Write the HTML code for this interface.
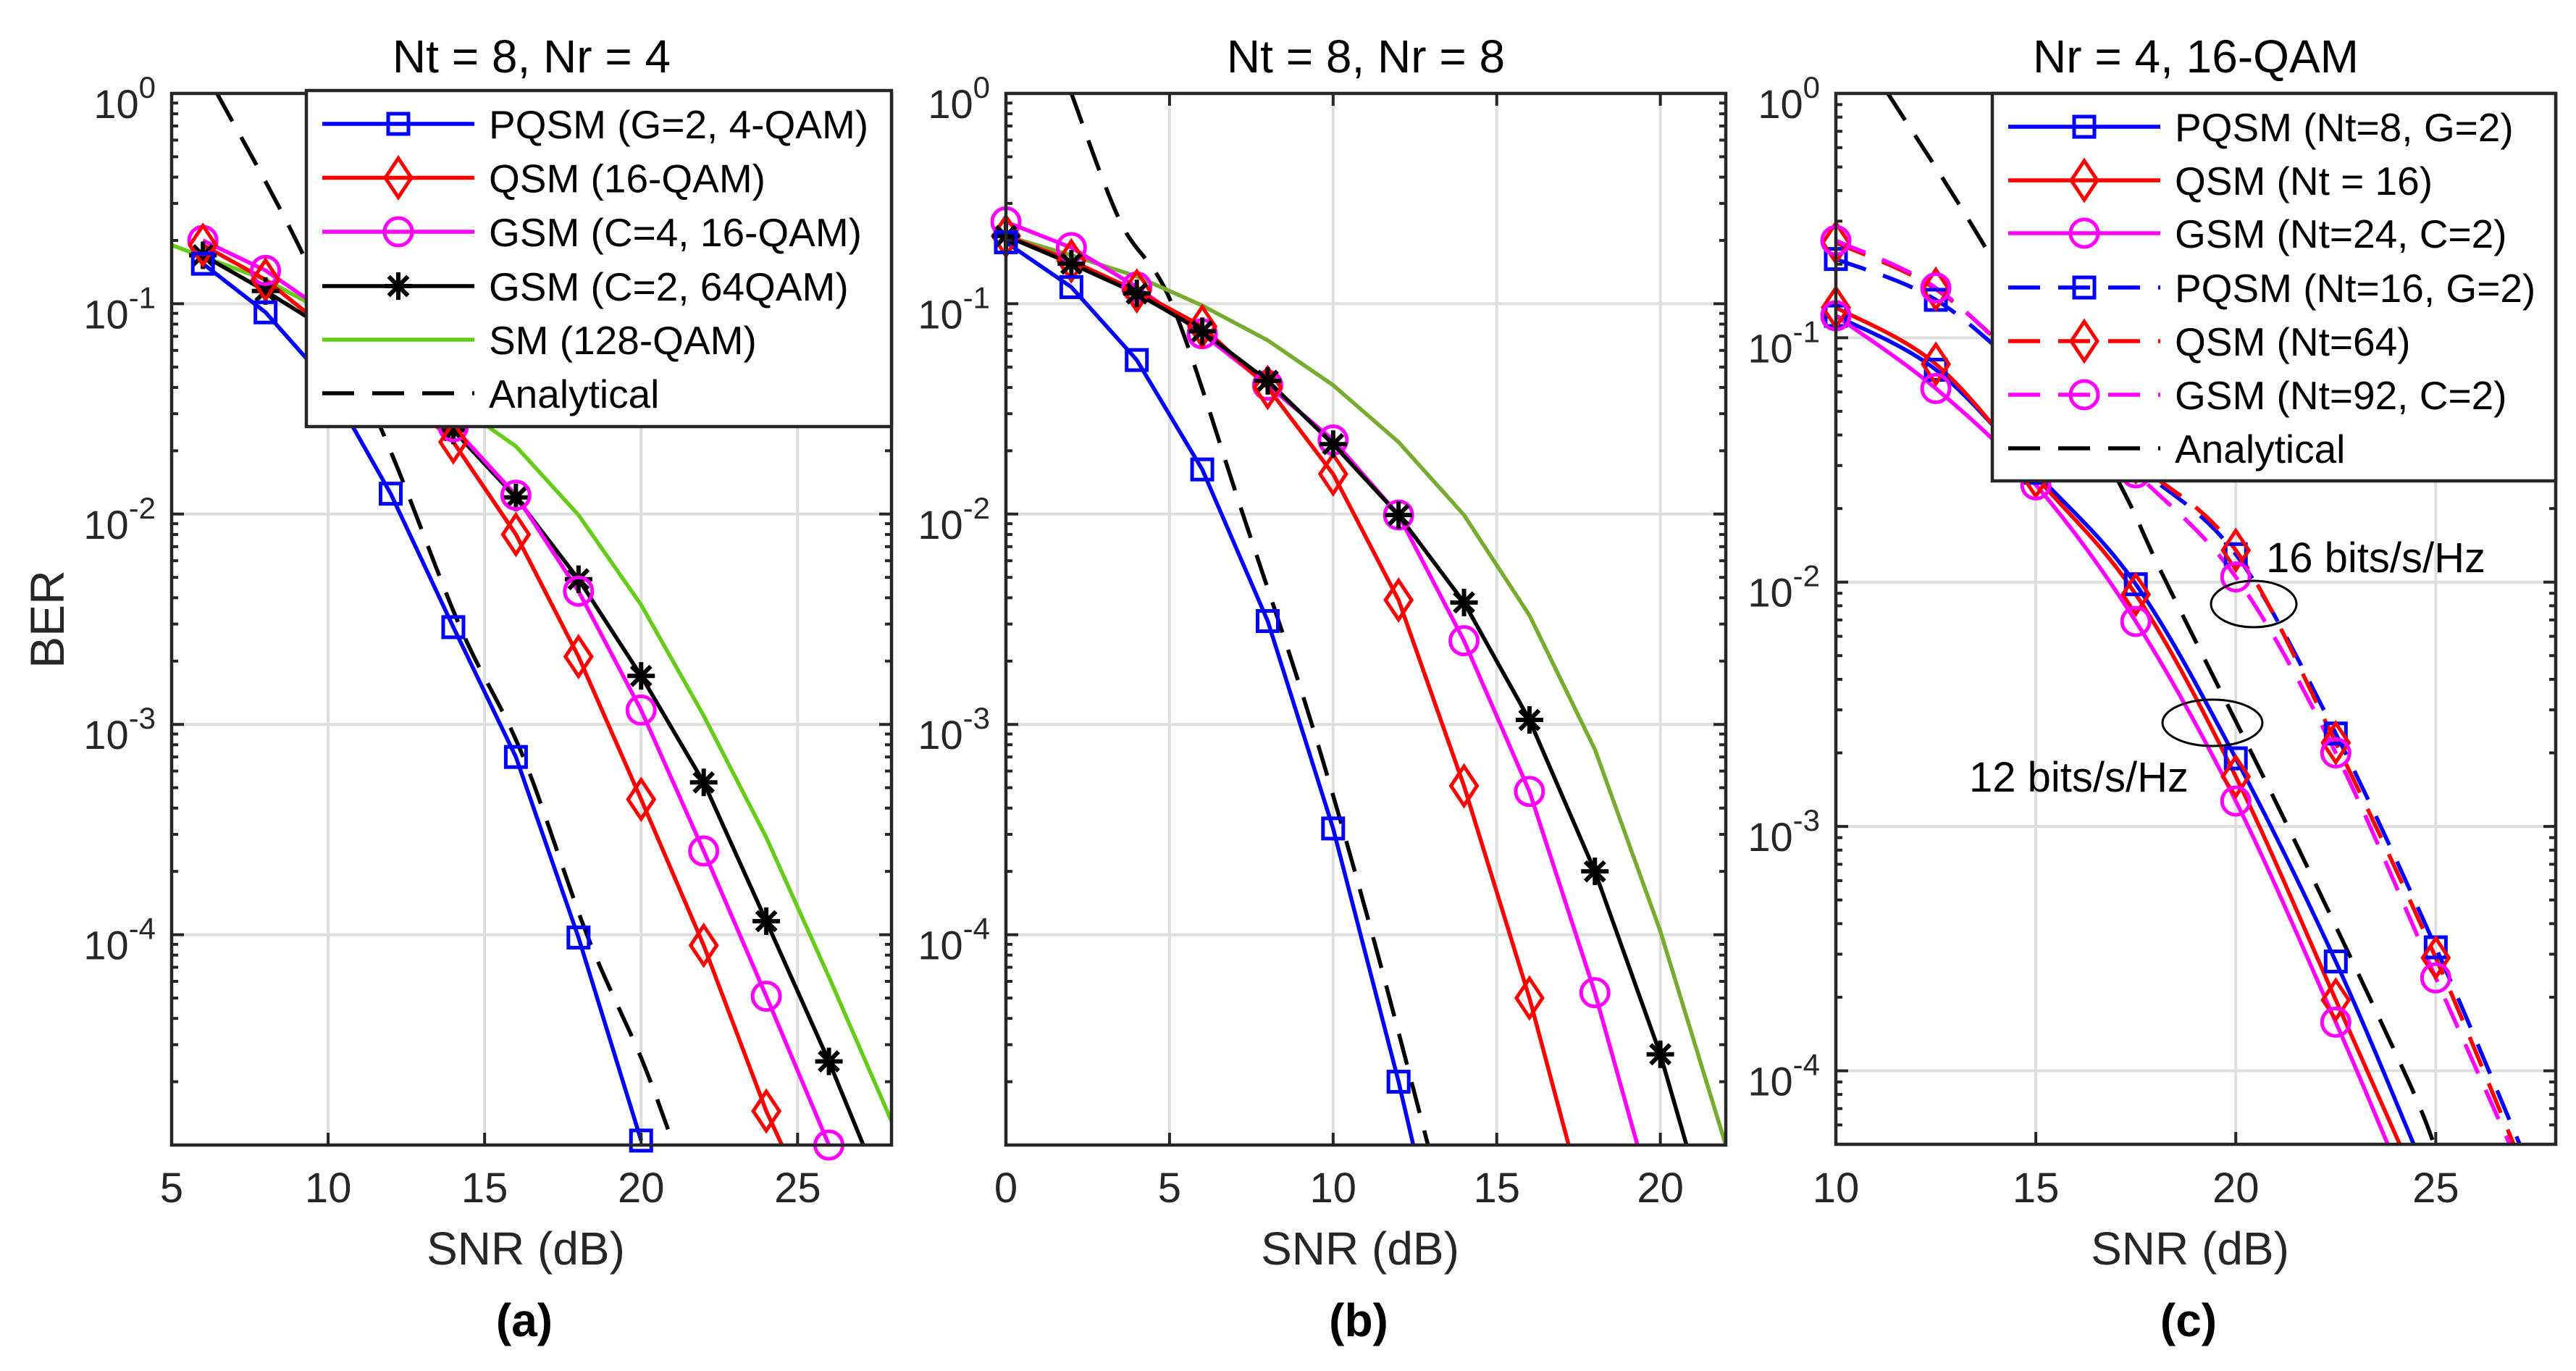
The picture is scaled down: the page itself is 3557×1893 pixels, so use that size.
<!DOCTYPE html>
<html><head><meta charset="utf-8">
<style>
html,body{margin:0;padding:0;background:#fff;}
svg{display:block;font-family:"Liberation Sans",Arial,sans-serif;}
</style></head>
<body>
<svg id="fig" width="3557" height="1893" viewBox="0 0 3557 1893" xmlns="http://www.w3.org/2000/svg">
<rect x="0" y="0" width="3557" height="1893" fill="#fff"/>
</svg>
<script>
// ---------- Panel (a): Nt=8, Nr=4 ----------
const aPqsmX=[6,8,10,12,14,16,18,20];
const aPqsmY=[0.155,0.091,0.042,0.0125,0.0029,0.0007,0.000097,0.0000105];
const aQsmX=[6,8,10,12,14,16,18,20,22,24,24.5];
const aQsmY=[0.19,0.13,0.075,0.042,0.022,0.008,0.0021,0.00044,0.000089,0.0000145,0.00001];
const aGsm4X=[6,8,10,12,14,16,18,20,22,24,26];
const aGsm4Y=[0.2,0.144,0.09,0.05,0.026,0.0123,0.0043,0.00117,0.00025,0.000051,0.00001];
const aGsm2X=[6,8,10,12,14,16,18,20,22,24,26,27.1];
const aGsm2Y=[0.17,0.115,0.075,0.045,0.025,0.012,0.0049,0.0017,0.00053,0.000116,0.000025,0.00001];
const aSmX=[5,8,10,12,14,16,18,20,22,24,26,28];
const aSmY=[0.19,0.13,0.09,0.058,0.034,0.021,0.0099,0.0037,0.0011,0.00029,0.000063,0.000013];
const aAnX=[6.45,9.13,11.93,14.22,16.2,18.27,20,21.04];
const aAnY=[1,0.18,0.021,0.0029,0.00072,0.0001,0.000026,0.00001];
const aMarkX=[6,8,10,12,14,16,18,20,22,24,26];
// ---------- Panel (b): Nt=8, Nr=8 ----------
const bPqsmX=[0,2,4,6,8,10,12,12.45];
const bPqsmY=[0.196,0.12,0.054,0.0163,0.0031,0.00032,0.00002,0.00001];
const bQsmX=[0,2,4,6,8,10,12,14,16,17.2];
const bQsmY=[0.21,0.16,0.115,0.078,0.04,0.0155,0.0039,0.00051,0.00005,0.00001];
const bGsm4X=[0,2,4,6,8,10,12,14,16,18,19.3];
const bGsm4Y=[0.245,0.185,0.12,0.072,0.041,0.0225,0.0099,0.0025,0.00048,0.000053,0.00001];
const bGsm2X=[0,2,4,6,8,10,12,14,16,18,20,20.8];
const bGsm2Y=[0.21,0.155,0.112,0.074,0.043,0.0215,0.0099,0.0038,0.00105,0.0002,0.000027,0.00001];
const bSmX=[0,2,4,6,8,10,12,14,16,18,20,22];
const bSmY=[0.21,0.17,0.135,0.098,0.067,0.041,0.022,0.0099,0.0033,0.00076,0.000104,0.00001];
const bAnX=[2,3.5,5.07,7.24,9.35,11.2,12.9];
const bAnY=[1,0.245,0.1,0.01,0.001,0.0001,0.00001];
// ---------- Panel (c): Nr=4, 16-QAM ----------
const cSolidPqsmX=[10,12.5,15,17.5,20,22.5,24.45];
const cSolidPqsmY=[0.123,0.074,0.028,0.0098,0.0019,0.00028,0.00005];
const cSolidQsmX=[10,12.5,15,17.5,20,22.5,24.1];
const cSolidQsmY=[0.133,0.078,0.027,0.0089,0.0016,0.000195,0.00005];
const cSolidGsmX=[10,12.5,15,17.5,20,22.5,23.8];
const cSolidGsmY=[0.123,0.062,0.025,0.0069,0.00127,0.000158,0.00005];
const cDashPqsmX=[10,12.5,15,17.5,20,22.5,25,27.1];
const cDashPqsmY=[0.21,0.143,0.066,0.03,0.013,0.0024,0.00032,0.00005];
const cDashQsmX=[10,12.5,15,17.5,20,22.5,25,26.95];
const cDashQsmY=[0.245,0.158,0.07,0.031,0.0135,0.0022,0.00029,0.00005];
const cDashGsmX=[10,12.5,15,17.5,20,22.5,25,26.85];
const cDashGsmY=[0.25,0.16,0.068,0.028,0.0105,0.002,0.00024,0.00005];
const cAnX=[11.3,13.7,16.9,18.26,21.3,24.2,24.96];
const cAnY=[1,0.24,0.029,0.01,0.001,0.0001,0.00005];
const cMarkX=[10,12.5,15,17.5,20,22.5,25];
// ticks
const aXTicks=[5,10,15,20,25];
const bXTicks=[0,5,10,15,20];
const cXTicks=[10,15,20,25];
const abYExp=[0,-1,-2,-3,-4];
const cYExp=[0,-1,-2,-3,-4];

const NS="http://www.w3.org/2000/svg";
const svg=document.getElementById('fig');
function el(tag,attrs,parent){const e=document.createElementNS(NS,tag);for(const k in attrs)e.setAttribute(k,attrs[k]);(parent||svg).appendChild(e);return e;}

const BLUE="#0000FF",RED="#FF0000",MAG="#FF00FF",BLK="#000000";
const AX="#262626";

function makePanel(p){
  const sx=v=>p.x0+(v-p.xmin)/(p.xmax-p.xmin)*(p.x1-p.x0);
  const sy=v=>p.y0+(p.lmax-Math.log10(v))/(p.lmax-p.lmin)*(p.y1-p.y0);
  const g=el('g',{});
  
  
  const clipId='clip-'+p.name;
  const cp=el('clipPath',{id:clipId},g);
  el('rect',{x:p.x0,y:p.y0,width:p.x1-p.x0,height:p.y1-p.y0},cp);
  const grid=el('g',{stroke:'#dedede','stroke-width':4},g);
  
  
  p.xticks.forEach(t=>{el('line',{x1:sx(t),x2:sx(t),y1:p.y0,y2:p.y1},grid);});
  for(let e=Math.ceil(p.lmin);e<=p.lmax;e++){el('line',{x1:p.x0,x2:p.x1,y1:sy(Math.pow(10,e)),y2:sy(Math.pow(10,e))},grid);}
  const sg=el('g',{'clip-path':'url(#'+clipId+')'},g);
  p.series.forEach(s=>{
    let pts=s.xs.map((x,i)=>[sx(x),sy(s.ys[i])]);
    let d;
    if(s.smooth){d=catmull(pts);}else{d='M'+pts.map(q=>q[0].toFixed(1)+','+q[1].toFixed(1)).join(' L');}
    const path=el('path',{d:d,fill:'none',stroke:s.color,'stroke-width':5.5,'stroke-linejoin':'round'},sg);
    if(s.dash)path.setAttribute('stroke-dasharray',s.dash);
    
    
  });
  const mg=el('g',{},g);
  p.series.forEach(s=>{
    if(!s.marker)return;
    s.xs.forEach((x,i)=>{
      if(s.markX.indexOf(x)<0)return;
      const m=drawMarker(mg,s.marker,sx(x),sy(s.ys[i]),s.color);
      
      
    });
  });
  const bx=el('rect',{x:p.x0,y:p.y0,width:p.x1-p.x0,height:p.y1-p.y0,fill:'none',stroke:AX,'stroke-width':4.5},g);
  
  
  const tk=el('g',{stroke:AX,'stroke-width':4},g);
  p.xticks.forEach(t=>{const X=sx(t);
    el('line',{x1:X,x2:X,y1:p.y1,y2:p.y1-17},tk);el('line',{x1:X,x2:X,y1:p.y0,y2:p.y0+17},tk);
    const tl=el('text',{x:X,y:1660,'font-size':58,fill:AX,'text-anchor':'middle'},g);tl.textContent=String(t);
    
    
  });
  for(let e=Math.floor(p.lmin);e<p.lmax;e++){
    for(let k=1;k<10;k++){const v=k*Math.pow(10,e);const L=Math.log10(v);if(L<p.lmin-1e-9||L>p.lmax+1e-9)continue;
      const Y=sy(v);const len=(k===1)?17:9;
      el('line',{x1:p.x0,x2:p.x0+len,y1:Y,y2:Y},tk);el('line',{x1:p.x1,x2:p.x1-len,y1:Y,y2:Y},tk);}
  }
  el('line',{x1:p.x0,x2:p.x0+17,y1:p.y0,y2:p.y0},tk);
  p.yexp.forEach(e=>{const Y=sy(Math.pow(10,e));
    const t=el('text',{x:p.x0-22,y:Y+34,'font-size':56,fill:AX,'text-anchor':'end'},g);
    
    
    const a=el('tspan',{},t);a.textContent='10';
    const b=el('tspan',{'font-size':42,dy:-28},t);b.textContent=String(e);
  });
  const tt=el('text',{x:(p.x0+p.x1)/2,y:100,'font-size':64,fill:'#000','text-anchor':'middle'},g);tt.textContent=p.title;
  
  
  const xt=el('text',{x:(p.x0+p.x1)/2-8,y:1746,'font-size':64,fill:AX,'text-anchor':'middle'},g);xt.textContent='SNR (dB)';
  
  
  const lb=el('text',{x:(p.x0+p.x1)/2-10,y:1845,'font-size':64,'font-weight':'bold',fill:'#000','text-anchor':'middle'},g);lb.textContent=p.label;
  
  
  return {sx,sy,g};
}

function catmull(pts){
  let d='M'+pts[0][0]+','+pts[0][1];
  for(let i=0;i<pts.length-1;i++){
    const p0=pts[Math.max(0,i-1)],p1=pts[i],p2=pts[i+1],p3=pts[Math.min(pts.length-1,i+2)];
    const c1=[p1[0]+(p2[0]-p0[0])/6,p1[1]+(p2[1]-p0[1])/6];
    const c2=[p2[0]-(p3[0]-p1[0])/6,p2[1]-(p3[1]-p1[1])/6];
    d+=' C'+c1.join(',')+' '+c2.join(',')+' '+p2.join(',');
  }
  return d;
}

function drawMarker(parent,type,x,y,c){
  const g=el('g',{fill:'none',stroke:c,'stroke-width':5},parent);
  if(type==='square'){el('rect',{x:x-14,y:y-14,width:28,height:28},g);}
  else if(type==='diamond'){el('path',{d:`M${x},${y-27} L${x+18},${y} L${x},${y+27} L${x-18},${y} Z`},g);}
  else if(type==='circle'){el('circle',{cx:x,cy:y,r:19},g);}
  else if(type==='star'){const r=19;el('path',{d:`M${x-r},${y} L${x+r},${y} M${x},${y-r} L${x},${y+r} M${x-r*0.7},${y-r*0.7} L${x+r*0.7},${y+r*0.7} M${x-r*0.7},${y+r*0.7} L${x+r*0.7},${y-r*0.7}`,'stroke-width':6},g);}
  return g;
}

function legend(name,x0,y0,x1,y1,entries,ys){
  const g=el('g',{});
  
  
  el('rect',{x:x0,y:y0,width:x1-x0,height:y1-y0,fill:'#fff',stroke:AX,'stroke-width':4.5},g);
  entries.forEach((e,i)=>{
    const Y=ys[i];
    const eg=el('g',{},g);
    
    
    const ln=el('line',{x1:x0+22,x2:x0+232,y1:Y,y2:Y,stroke:e.color,'stroke-width':5.5},eg);
    if(e.dash)ln.setAttribute('stroke-dasharray',e.dash);
    if(e.marker)drawMarker(eg,e.marker,x0+127,Y,e.color);
    const t=el('text',{x:x0+252,y:Y+20,'font-size':55,fill:'#000'},eg);t.textContent=e.text;
  });
}

const DASH='44 25';
makePanel({name:'panel-a',x0:237,x1:1231,y0:129,y1:1581,xmin:5,xmax:28,lmin:-5,lmax:0,xticks:aXTicks,yexp:abYExp,title:'Nt = 8, Nr = 4',label:'(a)',
 series:[
  {id:'a-analytical',xs:aAnX,ys:aAnY,color:BLK,dash:DASH,smooth:true},
  {id:'a-sm',xs:aSmX,ys:aSmY,color:'#66CC1A'},
  {id:'a-gsm-c2',xs:aGsm2X,ys:aGsm2Y,color:BLK,marker:'star',markX:aMarkX},
  {id:'a-gsm-c4',xs:aGsm4X,ys:aGsm4Y,color:MAG,marker:'circle',markX:aMarkX},
  {id:'a-qsm',xs:aQsmX,ys:aQsmY,color:RED,marker:'diamond',markX:aMarkX},
  {id:'a-pqsm',xs:aPqsmX,ys:aPqsmY,color:BLUE,marker:'square',markX:aMarkX}
 ]});
legend('panel-a-legend',423,125,1231,589,[
 {id:'pqsm',text:'PQSM (G=2, 4-QAM)',color:BLUE,marker:'square'},
 {id:'qsm',text:'QSM (16-QAM)',color:RED,marker:'diamond'},
 {id:'gsm-c4',text:'GSM (C=4, 16-QAM)',color:MAG,marker:'circle'},
 {id:'gsm-c2',text:'GSM (C=2, 64QAM)',color:BLK,marker:'star'},
 {id:'sm',text:'SM (128-QAM)',color:'#66CC1A'},
 {id:'analytical',text:'Analytical',color:BLK,dash:DASH}
],[171,245.5,320,395,469,543]);
const ber=el('text',{x:0,y:0,'font-size':66,fill:AX,'text-anchor':'middle',transform:'translate(88,855) rotate(-90)'});
ber.textContent='BER';



const bMark=[0,2,4,6,8,10,12,14,16,18,20];
makePanel({name:'panel-b',x0:1389,x1:2383,y0:129,y1:1581,xmin:0,xmax:22,lmin:-5,lmax:0,xticks:bXTicks,yexp:abYExp,title:'Nt = 8, Nr = 8',label:'(b)',
 series:[
  {id:'b-analytical',xs:bAnX,ys:bAnY,color:BLK,dash:DASH,smooth:true},
  {id:'b-sm',xs:bSmX,ys:bSmY,color:'#77AC30'},
  {id:'b-gsm-c4',xs:bGsm4X,ys:bGsm4Y,color:MAG,marker:'circle',markX:bMark},
  {id:'b-qsm',xs:bQsmX,ys:bQsmY,color:RED,marker:'diamond',markX:bMark},
  {id:'b-gsm-c2',xs:bGsm2X,ys:bGsm2Y,color:BLK,marker:'star',markX:bMark},
  {id:'b-pqsm',xs:bPqsmX,ys:bPqsmY,color:BLUE,marker:'square',markX:bMark}
 ]});

makePanel({name:'panel-c',x0:2535,x1:3529,y0:129,y1:1580,xmin:10,xmax:28,lmin:Math.log10(5e-5),lmax:0,xticks:cXTicks,yexp:cYExp,title:'Nr = 4, 16-QAM',label:'(c)',
 series:[
  {id:'c-analytical',xs:cAnX,ys:cAnY,color:BLK,dash:DASH,smooth:true},
  {id:'c-pqsm-nt16',xs:cDashPqsmX,ys:cDashPqsmY,color:BLUE,dash:DASH,marker:'square',markX:cMarkX,smooth:true},
  {id:'c-qsm-nt64',xs:cDashQsmX,ys:cDashQsmY,color:RED,dash:DASH,marker:'diamond',markX:cMarkX,smooth:true},
  {id:'c-gsm-nt92',xs:cDashGsmX,ys:cDashGsmY,color:MAG,dash:DASH,marker:'circle',markX:cMarkX,smooth:true},
  {id:'c-pqsm-nt8',xs:cSolidPqsmX,ys:cSolidPqsmY,color:BLUE,marker:'square',markX:cMarkX,smooth:true},
  {id:'c-qsm-nt16',xs:cSolidQsmX,ys:cSolidQsmY,color:RED,marker:'diamond',markX:cMarkX,smooth:true},
  {id:'c-gsm-nt24',xs:cSolidGsmX,ys:cSolidGsmY,color:MAG,marker:'circle',markX:cMarkX,smooth:true}
 ]});
const e1=el('ellipse',{cx:3112,cy:834,rx:59,ry:32,fill:'none',stroke:'#000','stroke-width':3});


const e2=el('ellipse',{cx:3055,cy:998,rx:69,ry:32,fill:'none',stroke:'#000','stroke-width':3});


const t16=el('text',{x:3129,y:790,'font-size':58,fill:'#000'});t16.textContent='16 bits/s/Hz';


const t12=el('text',{x:2719,y:1093,'font-size':58,fill:'#000'});t12.textContent='12 bits/s/Hz';


legend('panel-c-legend',2751,129,3529,664,[
 {id:'pqsm-nt8',text:'PQSM (Nt=8, G=2)',color:BLUE,marker:'square'},
 {id:'qsm-nt16',text:'QSM (Nt = 16)',color:RED,marker:'diamond'},
 {id:'gsm-nt24',text:'GSM (Nt=24, C=2)',color:MAG,marker:'circle'},
 {id:'pqsm-nt16',text:'PQSM (Nt=16, G=2)',color:BLUE,marker:'square',dash:DASH},
 {id:'qsm-nt64',text:'QSM (Nt=64)',color:RED,marker:'diamond',dash:DASH},
 {id:'gsm-nt92',text:'GSM (Nt=92, C=2)',color:MAG,marker:'circle',dash:DASH},
 {id:'analytical-c',text:'Analytical',color:BLK,dash:DASH}
],[175,249,322,397,471,545,619]);
</script>
</body></html>
